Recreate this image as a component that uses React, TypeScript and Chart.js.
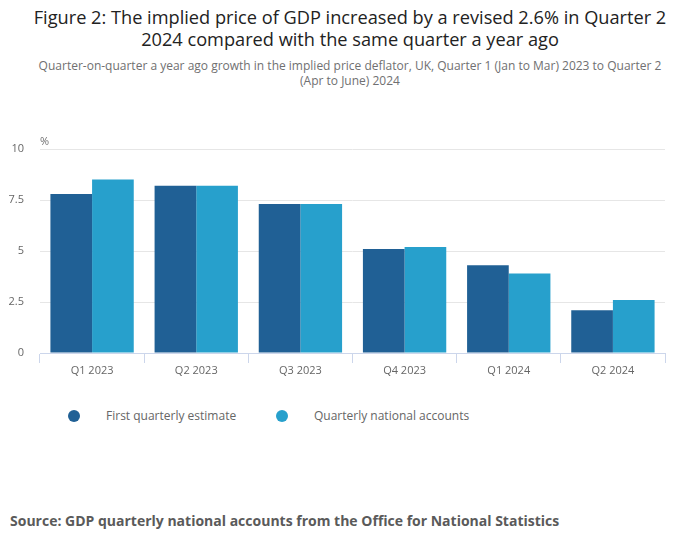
import { useEffect, useRef } from 'react'
import { Chart, registerables } from 'chart.js'

Chart.register(...registerables)

const categories = ['Q1 2023', 'Q2 2023', 'Q3 2023', 'Q4 2023', 'Q1 2024', 'Q2 2024']
const firstEstimate = [7.8, 8.2, 7.3, 5.1, 4.3, 2.1]
const nationalAccounts = [8.5, 8.2, 7.3, 5.2, 3.9, 2.6]
const yTicks = [0, 2.5, 5, 7.5, 10]
const seriesNames = ['First quarterly estimate', 'Quarterly national accounts']
const seriesColors = ['#206095', '#27a0cc']

const titleLines = [
    'Figure 2: The implied price of GDP increased by a revised 2.6% in Quarter 2',
    '2024 compared with the same quarter a year ago',
]
const subtitleLines = [
    'Quarter-on-quarter a year ago growth in the implied price deflator, UK, Quarter 1 (Jan to Mar) 2023 to Quarter 2',
    '(Apr to June) 2024',
]
const sourceText = 'Source: GDP quarterly national accounts from the Office for National Statistics'

const FONT = '"Open Sans", sans-serif'

// draws the small "%" unit label above the y axis
const unitLabel = {
    id: 'unitLabel',
    afterDraw(chart: any) {
        const { ctx, chartArea } = chart
        ctx.save()
        ctx.font = `11px ${FONT}`
        ctx.fillStyle = '#707071'
        ctx.textAlign = 'left'
        ctx.textBaseline = 'middle'
        ctx.fillText('%', chartArea.left, chartArea.top - 7)
        ctx.restore()
    },
}

const App = () => {
    const chartRef = useRef<HTMLCanvasElement>(null)

    useEffect(() => {
        if (!chartRef.current) return
        const myChart = new Chart(chartRef.current, {
            type: 'bar',
            data: {
                labels: categories,
                datasets: [
                    { label: seriesNames[0], data: firstEstimate, backgroundColor: seriesColors[0] },
                    { label: seriesNames[1], data: nationalAccounts, backgroundColor: seriesColors[1] },
                ],
            },
            options: {
                animation: false,
                responsive: false,
                layout: { padding: { top: 19, right: 27, left: 0, bottom: 0 } },
                datasets: { bar: { categoryPercentage: 0.8, barPercentage: 1 } },
                plugins: {
                    legend: { display: false },
                    tooltip: { enabled: false },
                },
                scales: {
                    x: {
                        grid: { drawOnChartArea: false, drawTicks: true, tickLength: 10, color: '#ccd6eb', offset: true },
                        border: { color: '#ccd6eb' },
                        ticks: { color: '#666666', font: { family: FONT, size: 11 }, padding: 1, maxRotation: 0 },
                        afterFit: (s: any) => { s.height = 38 },
                    },
                    y: {
                        min: 0,
                        max: 10,
                        afterBuildTicks: (s: any) => { s.ticks = yTicks.map((v) => ({ value: v })) },
                        // invisible tick marks keep the labels off the plot without adding top padding
                        grid: { color: '#e6e6e6', drawTicks: true, tickLength: 16, tickColor: 'rgba(0,0,0,0)' },
                        border: { display: false },
                        ticks: {
                            color: '#666666',
                            font: { family: FONT, size: 11 },
                            padding: 0,
                            callback: (v: any) => String(v),
                        },
                        afterFit: (s: any) => { s.width = 32 },
                    },
                },
            },
            plugins: [unitLabel],
        })
        return () => {
            myChart.destroy()
        }
    }, [])

    return (
        <div style={{ position: 'relative', width: 684, height: 533, fontFamily: FONT }}>
            <div style={{ position: 'absolute', top: -2, left: 0, width: 684, textAlign: 'center', fontSize: 18.2, lineHeight: '22px', color: '#222222' }}>
                {titleLines.map((l) => <div key={l}>{l}</div>)}
            </div>
            <div style={{ position: 'absolute', top: 50, left: 0, width: 684, textAlign: 'center', fontSize: 12, lineHeight: '15px', color: '#707071' }}>
                {subtitleLines.map((l) => <div key={l}>{l}</div>)}
            </div>
            <canvas ref={chartRef} width={684} height={261} style={{ position: 'absolute', top: 122, left: 0 }} />
            {seriesNames.map((name, i) => (
                <div key={name} style={{ position: 'absolute', top: 400, left: i === 0 ? 60 : 268, display: 'flex', alignItems: 'center', fontSize: 12, color: '#666666', lineHeight: '16px' }}>
                    <span style={{ width: 12, height: 12, borderRadius: 6, background: seriesColors[i], display: 'inline-block', marginRight: 26 }} />
                    <span>{name}</span>
                </div>
            ))}
            <div style={{ position: 'absolute', top: 504, left: 2, fontSize: 14, fontWeight: 700, color: '#5a5a5a', lineHeight: '18px' }}>
                {sourceText}
            </div>
        </div>
    )
}

export default App
